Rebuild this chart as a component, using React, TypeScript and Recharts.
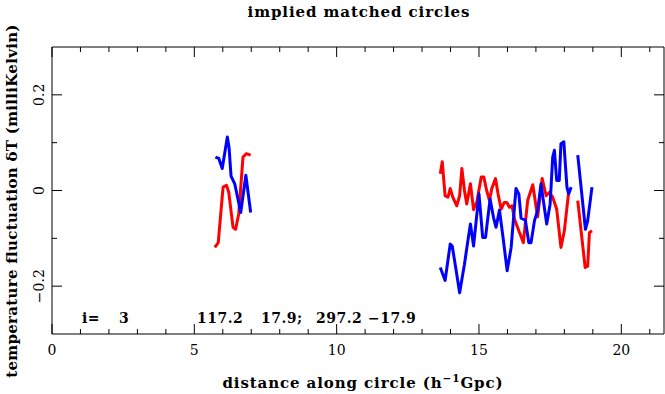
import React from "react";
import { Customized, Line, LineChart, XAxis, YAxis } from "recharts";

const FONT = "'DejaVu Serif', serif";

// distance along circle (h^-1 Gpc) and temperature fluctuation (mK), null = gap
const redX = [
  5.72, 5.84, 6.01, 6.13, 6.21, 6.36, 6.45, 6.56, 6.71, 6.83, 6.98,
  10,
  13.64, 13.71, 13.81, 13.91, 13.99, 14.08, 14.22, 14.32, 14.4, 14.49, 14.57, 14.7, 14.81, 14.92,
  15.08, 15.17, 15.27, 15.37, 15.45, 15.58, 15.67, 15.78, 15.89, 15.98, 16.07, 16.16, 16.25, 16.4,
  16.56, 16.71, 16.89, 17.06, 17.22, 17.36, 17.47, 17.59, 17.73, 17.88, 18.0, 18.15,
  18.3,
  18.47, 18.73, 18.82, 18.88, 18.97
];
const redY = [
  -0.119, -0.109, 0.007, 0.011, -0.004, -0.077, -0.081, -0.049, 0.07, 0.077, 0.074,
  null,
  0.035, 0.06, -0.011, -0.014, 0.004, -0.014, -0.032, -0.011, 0.046, 0.0, -0.028, 0.014, -0.04, -0.025,
  0.028, 0.028, 0.0, -0.021, 0.004, 0.025, -0.007, -0.039, -0.025, -0.025, -0.035, -0.032, -0.06, -0.084,
  -0.109, -0.021, 0.012, -0.055, 0.025, -0.011, -0.004, -0.014, -0.039, -0.119, -0.084, -0.004,
  null,
  -0.021, -0.161, -0.158, -0.088, -0.084
];

const blueX = [
  5.74, 5.86, 5.98, 6.16, 6.22, 6.29, 6.42, 6.63, 6.81, 6.98,
  10,
  13.64, 13.81, 13.99, 14.06, 14.2, 14.32, 14.49, 14.61, 14.7, 14.81, 15.0, 15.13, 15.23, 15.39,
  15.51, 15.6, 15.72, 15.86, 15.99, 16.13, 16.3, 16.4, 16.48, 16.63, 16.75, 16.83, 16.95, 17.06,
  17.18, 17.26, 17.38, 17.5, 17.59, 17.65, 17.73, 17.82, 17.88, 17.98, 18.09, 18.15, 18.24,
  18.35,
  18.47, 18.74, 18.82, 18.97
];
const blueY = [
  0.07, 0.067, 0.046, 0.112, 0.09, 0.03, 0.014, -0.046, 0.032, -0.046,
  null,
  -0.161, -0.188, -0.112, -0.116, -0.168, -0.214, -0.154, -0.105, -0.07, -0.116, -0.007, -0.098, -0.098, -0.018,
  -0.056, -0.077, -0.041, -0.105, -0.168, -0.119, 0.004, -0.007, -0.058, -0.062, -0.109, -0.109, -0.063, -0.042,
  0.014, -0.021, -0.07, -0.028, 0.07, 0.084, 0.021, 0.021, 0.098, 0.102, 0.007, -0.007, 0.007,
  null,
  0.074, -0.081, -0.063, 0.007
];

const xTicks = [0, 1, 2, 3, 4, 5, 6, 7, 8, 9, 10, 11, 12, 13, 14, 15, 16, 17, 18, 19, 20, 21];
const xMajor = [0, 5, 10, 15, 20];
const yTicks = [-0.2, -0.1, 0, 0.1, 0.2];
const yMajor = [-0.2, 0, 0.2];
const yLabels: Record<string, string> = { "-0.2": "\u22120.2", "0": "0", "0.2": "0.2" };

const redData = redX.map((x, i) => ({ x, y: redY[i] }));
const blueData = blueX.map((x, i) => ({ x, y: blueY[i] }));

const tickLen = (major: boolean) => (major ? 10 : 5);

function BottomTick(props: any) {
  const { x, y, payload } = props;
  const major = xMajor.includes(payload.value);
  return (
    <g>
      <line x1={x} x2={x} y1={y} y2={y - tickLen(major)} stroke="#000" />
      {major && (
        <text x={x} y={y + 21} textAnchor="middle" fontFamily={FONT} fontSize={14} fill="#000">
          {payload.value}
        </text>
      )}
    </g>
  );
}

function TopTick(props: any) {
  const { x, y, payload } = props;
  const major = xMajor.includes(payload.value);
  return <line x1={x} x2={x} y1={y} y2={y + tickLen(major)} stroke="#000" />;
}

function LeftTick(props: any) {
  const { x, y, payload } = props;
  const v = Math.round(payload.value * 10) / 10;
  const major = yMajor.includes(v);
  return (
    <g>
      <line x1={x} x2={x + tickLen(major)} y1={y} y2={y} stroke="#000" />
      {major && (
        <text
          x={44}
          y={y}
          transform={`rotate(-90 44 ${y})`}
          textAnchor="middle"
          fontFamily={FONT}
          fontSize={14}
          fill="#000"
        >
          {yLabels[String(v)]}
        </text>
      )}
    </g>
  );
}

function RightTick(props: any) {
  const { x, y, payload } = props;
  const v = Math.round(payload.value * 10) / 10;
  const major = yMajor.includes(v);
  return <line x1={x} x2={x - tickLen(major)} y1={y} y2={y} stroke="#000" />;
}

function Texts() {
  const bold = { fontFamily: FONT, fontWeight: 700, fill: "#000" } as const;
  return (
    <g>
      <text x={359} y={17} textAnchor="middle" fontSize={15} letterSpacing={0.9} {...bold}>
        implied matched circles
      </text>
      <text x={363} y={388} textAnchor="middle" fontSize={15} letterSpacing={0.9} {...bold}>
        distance along circle (h
        <tspan fontSize={10.5} dy={-6}>{"\u22121"}</tspan>
        <tspan dy={6}>Gpc)</tspan>
      </text>
      <text
        x={17}
        y={201}
        transform="rotate(-90 17 201)"
        textAnchor="middle"
        fontSize={15}
        letterSpacing={0.3}
        {...bold}
      >
        temperature fluctuation {"\u03B4"}T (milliKelvin)
      </text>
      <g fontSize={14} letterSpacing={0.5} {...bold}>
        <text x={82} y={323}>i=</text>
        <text x={119} y={323}>3</text>
        <text x={197} y={323}>117.2</text>
        <text x={261} y={323}>17.9;</text>
        <text x={316} y={323}>297.2</text>
        <text x={368} y={323}>{"\u221217.9"}</text>
      </g>
    </g>
  );
}

const axisCommon = {
  interval: 0 as const,
  allowDataOverflow: true,
  tickLine: false,
  tickSize: 0,
  tickMargin: 0,
  axisLine: { stroke: "#000" }
};

export default function App() {
  return (
    <div style={{ position: "absolute", left: 0, top: 0, background: "#fff" }}>
      <LineChart width={665} height={394} margin={{ top: 46, right: 0, bottom: 59, left: 51 }}>
        <XAxis
          xAxisId="b"
          type="number"
          dataKey="x"
          domain={[0, 21.5]}
          ticks={xTicks}
          height={1}
          tick={BottomTick}
          {...axisCommon}
        />
        <XAxis
          xAxisId="t"
          orientation="top"
          type="number"
          dataKey="x"
          domain={[0, 21.5]}
          ticks={xTicks}
          height={1}
          tick={TopTick}
          {...axisCommon}
        />
        <YAxis
          yAxisId="l"
          type="number"
          domain={[-0.3, 0.3]}
          ticks={yTicks}
          width={1}
          tick={LeftTick}
          {...axisCommon}
        />
        <YAxis
          yAxisId="r"
          orientation="right"
          type="number"
          domain={[-0.3, 0.3]}
          ticks={yTicks}
          width={1}
          tick={RightTick}
          {...axisCommon}
        />
        <Line
          xAxisId="b"
          yAxisId="l"
          data={redData}
          dataKey="y"
          stroke="#ff0000"
          strokeWidth={3}
          dot={false}
          activeDot={false}
          strokeLinejoin="round"
          isAnimationActive={false}
        />
        <Line
          xAxisId="b"
          yAxisId="l"
          data={blueData}
          dataKey="y"
          stroke="#0000ff"
          strokeWidth={3}
          dot={false}
          activeDot={false}
          strokeLinejoin="round"
          isAnimationActive={false}
        />
        <Customized component={Texts} />
      </LineChart>
    </div>
  );
}
